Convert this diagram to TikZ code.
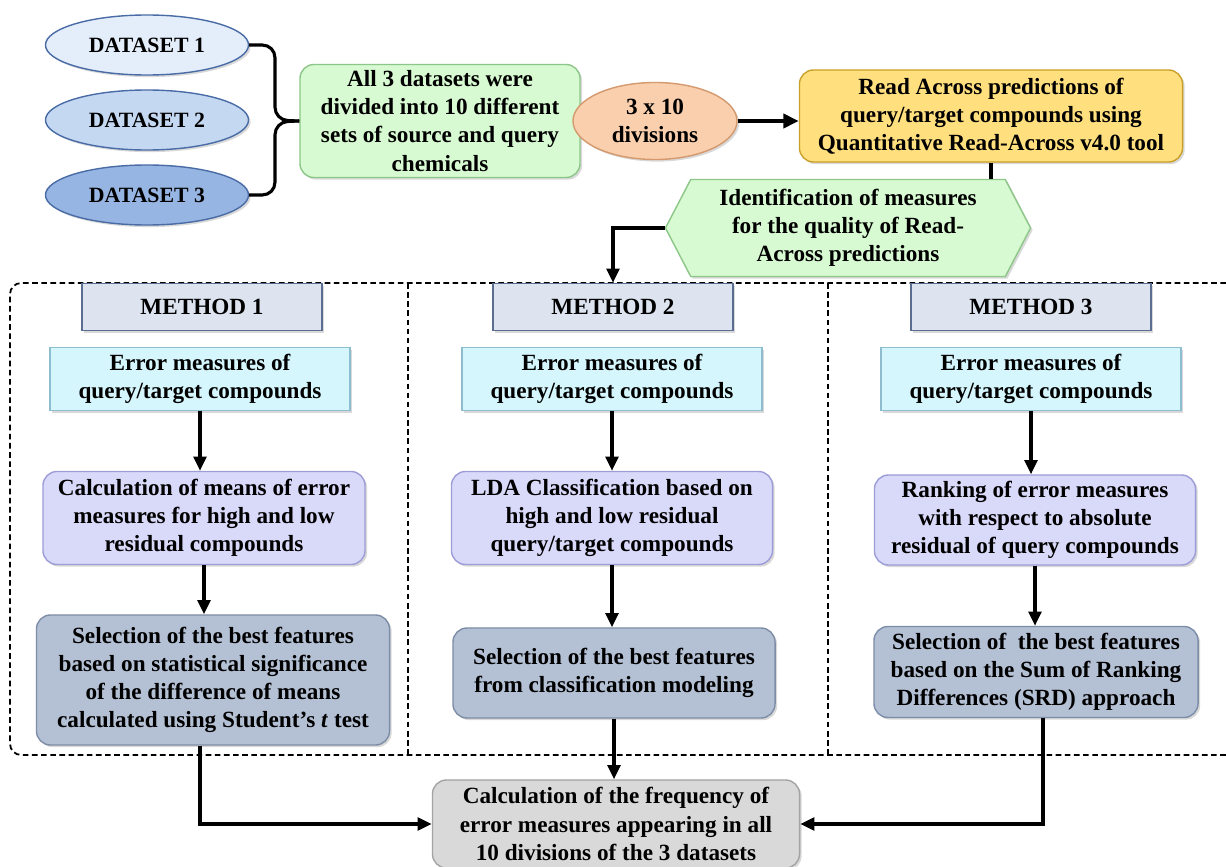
\documentclass[tikz,border=0pt]{standalone}
\usepackage{fontspec}
\setmainfont{Liberation Serif}
\usepackage{xcolor}
\usepackage{tikz}
\usetikzlibrary{shapes.geometric, shapes.symbols, arrows.meta, positioning, shadows}

\definecolor{dsone}{HTML}{E4EEFB}
\definecolor{dstwo}{HTML}{C4D8F2}
\definecolor{dsthree}{HTML}{97B5E2}
\definecolor{dsline}{HTML}{4A6CA6}
\definecolor{splitfill}{HTML}{D8FAD2}
\definecolor{splitline}{HTML}{8CC688}
\definecolor{divfill}{HTML}{F9CFAE}
\definecolor{divline}{HTML}{D49A6E}
\definecolor{rafill}{HTML}{FFDF7E}
\definecolor{raline}{HTML}{C9A12A}
\definecolor{methfill}{HTML}{DDE4EF}
\definecolor{methline}{HTML}{5B6E91}
\definecolor{errfill}{HTML}{D4F6FC}
\definecolor{errline}{HTML}{8DBDCE}
\definecolor{calcfill}{HTML}{D9D9FA}
\definecolor{calcline}{HTML}{9C9CD6}
\definecolor{selfill}{HTML}{B4C0D4}
\definecolor{selline}{HTML}{7E8DA7}
\definecolor{finfill}{HTML}{D9D9D9}
\definecolor{finline}{HTML}{A3A3A3}

\begin{document}
\begin{tikzpicture}[x=0.025cm, y=-0.025cm,
  every node/.style={font=\fontsize{16.5}{20}\selectfont\bfseries, align=center, inner sep=2pt},
  boxshadow/.style={drop shadow={shadow xshift=1.5pt, shadow yshift=-1.5pt, opacity=0.3}},
  dataset/.style={ellipse, draw=dsline, line width=1pt, minimum width=5.075cm, minimum height=1.5cm,
    boxshadow, font=\fontsize{15.5}{18}\selectfont\bfseries},
  roundbox/.style={rectangle, rounded corners=10pt, line width=1pt, boxshadow},
  flatbox/.style={rectangle, line width=1pt, boxshadow},
  conn/.style={line width=2.2pt},
  flow/.style={line width=2.2pt, -{Triangle[length=10pt, width=9pt]}},
  frame/.style={line width=1.3pt, dash pattern=on 4pt off 2.5pt}
]
\useasboundingbox (0,0) rectangle (1226,867);

% Dashed frames of the three methods
\draw[frame, rounded corners=8pt] (1226,283) -- (10,283) -- (10,755) -- (1226,755);
\draw[frame] (408,283) -- (408,755) (828,283) -- (828,755);

% Datasets
\node[dataset, fill=dsone] (ds1) at (147,45) {DATASET 1};
\node[dataset, fill=dstwo] (ds2) at (147,120) {DATASET 2};
\node[dataset, fill=dsthree] (ds3) at (147,195) {DATASET 3};

\node[roundbox, draw=splitline, fill=splitfill, minimum width=7cm, minimum height=2.825cm] (split) at (440,121)
  {All 3 datasets were\\divided into 10 different\\sets of source and query\\chemicals};
\node[ellipse, draw=divline, fill=divfill, line width=1pt, minimum width=4.1cm, minimum height=1.925cm, boxshadow] (div) at (655,121)
  {3 x 10\\divisions};
\node[roundbox, draw=raline, fill=rafill, minimum width=9.575cm, minimum height=2.3cm] (ra) at (991,116)
  {Read Across predictions of\\query/target compounds using\\Quantitative Read-Across v4.0 tool};
\node[signal, signal to=west and east, signal pointer angle=125, draw=splitline, fill=splitfill, line width=1pt,
  minimum width=9.125cm, minimum height=2.425cm, boxshadow] (hex) at (848,228)
  {Identification of measures\\for the quality of Read-\\Across predictions};

\draw[conn, rounded corners=9pt] (ds1.east) -| (275,120) -- (split.west);
\draw[conn, rounded corners=9pt] (ds3.east) -| (275,122) -- (split.west);
\draw[line width=3pt, -{Triangle[length=11pt, width=10pt]}] (div.east) -- (div.east -| ra.west);
\draw[conn] (ra.south) -- (ra.south |- hex.north);

% Method headers
\node[flatbox, draw=methline, fill=methfill, minimum width=6cm, minimum height=1.175cm] (m1) at (202,307) {METHOD 1};
\node[flatbox, draw=methline, fill=methfill, minimum width=6cm, minimum height=1.175cm] (m2) at (613,307) {METHOD 2};
\node[flatbox, draw=methline, fill=methfill, minimum width=6cm, minimum height=1.175cm] (m3) at (1031,307) {METHOD 3};
\draw[flow] (hex.west) -| (m2.north);

% Error measures
\node[flatbox, draw=errline, fill=errfill, minimum width=7.5cm, minimum height=1.575cm] (e1) at (200,379)
  {Error measures of\\query/target compounds};
\node[flatbox, draw=errline, fill=errfill, minimum width=7.5cm, minimum height=1.575cm] (e2) at (612,379)
  {Error measures of\\query/target compounds};
\node[flatbox, draw=errline, fill=errfill, minimum width=7.5cm, minimum height=1.575cm] (e3) at (1031,379)
  {Error measures of\\query/target compounds};

% Calculation / classification / ranking
\node[roundbox, draw=calcline, fill=calcfill, minimum width=8.05cm, minimum height=2.325cm] (c1) at (204,518)
  {Calculation of means of error\\measures for high and low\\residual compounds};
\node[roundbox, draw=calcline, fill=calcfill, minimum width=8.025cm, minimum height=2.325cm] (c2) at (612,518)
  {LDA Classification based on\\high and low residual\\query/target compounds};
\node[roundbox, draw=calcline, fill=calcfill, minimum width=8.025cm, minimum height=2.25cm] (c3) at (1035,520)
  {Ranking of error measures\\with respect to absolute\\residual of query compounds};

% Feature selection
\node[roundbox, draw=selline, fill=selfill, minimum width=8.825cm, minimum height=3.25cm] (s1) at (213,680)
  {Selection of the best features\\based on statistical significance\\of the difference of means\\calculated using Student’s \textit{t} test};
\node[roundbox, draw=selline, fill=selfill, minimum width=8.05cm, minimum height=2.25cm] (s2) at (614,673)
  {Selection of the best features\\from classification modeling};
\node[roundbox, draw=selline, fill=selfill, minimum width=8.1cm, minimum height=2.275cm] (s3) at (1036,672)
  {Selection of\ \ the best features\\based on the Sum of Ranking\\Differences (SRD) approach};

\foreach \col in {1,2,3} {
  \draw[flow] (e\col.south) -- (e\col.south |- c\col.north);
  \draw[flow] (c\col.south) -- (c\col.south |- s\col.north);
}

% Frequency
\node[roundbox, draw=finline, fill=finfill, minimum width=9.175cm, minimum height=2.2cm] (fin) at (616,824)
  {Calculation of the frequency of\\error measures appearing in all\\10 divisions of the 3 datasets};
\draw[flow] (s1.south -| e1.south) |- (fin.west);
\draw[flow] (s2.south) -- (s2.south |- fin.north);
\draw[flow] (s3.south) ++(7,0) |- (fin.east);
\end{tikzpicture}
\end{document}
